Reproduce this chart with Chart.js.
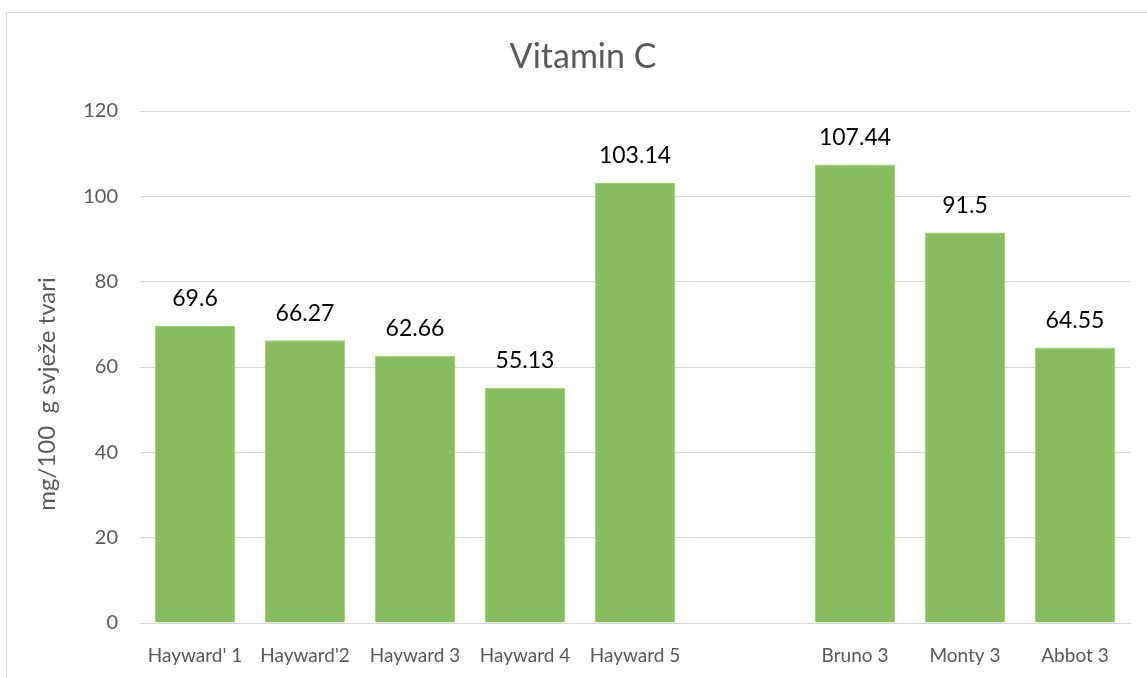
<!DOCTYPE html>
<html>
<head>
<meta charset="utf-8">
<script src="https://cdn.jsdelivr.net/npm/chart.js@4/dist/chart.umd.min.js"></script>
<style>
  html, body { margin: 0; padding: 0; background: #fff; }
  #wrap { width: 1147px; height: 678px; position: relative; }
</style>
</head>
<body>
<div id="wrap"><canvas id="chart"></canvas></div>
<script>
var categories = ["Hayward' 1", "Hayward'2", "Hayward 3", "Hayward 4", "Hayward 5", "", "Bruno 3", "Monty 3", "Abbot 3"];
var vitaminC = [69.6, 66.27, 62.66, 55.13, 103.14, null, 107.44, 91.5, 64.55];
var yTicks = [0, 20, 40, 60, 80, 100, 120];
var yTitle = "mg/100  g svježe tvari";

var FONT = "Lato, 'Open Sans', sans-serif";
var GREY = "#595959";

// frame around the whole chart, like the office chart border
var framePlugin = {
  id: "frame",
  beforeDraw: function (chart) {
    var ctx = chart.ctx;
    ctx.save();
    ctx.strokeStyle = "#D9D9D9";
    ctx.lineWidth = 1;
    ctx.strokeRect(6.5, 12.5, 2000, 2000);
    ctx.restore();
  }
};

// y axis title, placed a bit lower than the plot centre like the original
var yTitlePlugin = {
  id: "yTitle",
  afterDraw: function (chart) {
    var ctx = chart.ctx;
    ctx.save();
    ctx.translate(47, 394);
    ctx.rotate(-Math.PI / 2);
    ctx.fillStyle = GREY;
    ctx.font = "24px " + FONT;
    ctx.textAlign = "center";
    ctx.textBaseline = "middle";
    ctx.fillText(yTitle, 0, 0);
    ctx.restore();
  }
};

// values above the bars
var valueLabels = {
  id: "valueLabels",
  afterDatasetsDraw: function (chart) {
    var ctx = chart.ctx;
    var meta = chart.getDatasetMeta(0);
    ctx.save();
    ctx.fillStyle = "#000";
    ctx.font = "23px " + FONT;
    ctx.textAlign = "center";
    ctx.textBaseline = "middle";
    meta.data.forEach(function (bar, i) {
      var v = vitaminC[i];
      if (v == null) return;
      ctx.fillText(String(v), bar.x, bar.y - 27);
    });
    ctx.restore();
  }
};

new Chart(document.getElementById("chart"), {
  type: "bar",
  data: {
    labels: categories,
    datasets: [{
      label: "Vitamin C",
      data: vitaminC,
      backgroundColor: "#87BD5E",
      borderColor: "#97D45A",
      borderWidth: 1,
      barPercentage: 0.73,
      categoryPercentage: 1
    }]
  },
  options: {
    responsive: true,
    maintainAspectRatio: false,
    animation: false,
    layout: { padding: { left: 36, right: 17, top: 0, bottom: 0 } },
    plugins: {
      legend: { display: false },
      tooltip: { enabled: false },
      title: {
        display: true,
        text: "Vitamin C",
        color: GREY,
        font: { family: FONT, size: 34, weight: "normal" },
        padding: { top: 37, bottom: 33.2 }
      }
    },
    scales: {
      x: {
        grid: { display: false, drawTicks: false },
        border: { color: "#D9D9D9" },
        ticks: {
          color: GREY,
          font: { family: FONT, size: 19 },
          padding: 21,
          maxRotation: 0,
          autoSkip: false
        },
        afterFit: function (scale) { scale.height = 55; }
      },
      y: {
        min: 0,
        max: 120,
        afterBuildTicks: function (scale) {
          scale.ticks = yTicks.map(function (v) { return { value: v }; });
        },
        grid: { color: "#D9D9D9", drawTicks: false },
        border: { display: false },
        ticks: {
          color: GREY,
          font: { family: FONT, size: 20 },
          padding: 22
        },
        afterFit: function (scale) { scale.width = 104; }
      }
    }
  },
  plugins: [framePlugin, valueLabels, yTitlePlugin]
});
</script>
</body>
</html>
